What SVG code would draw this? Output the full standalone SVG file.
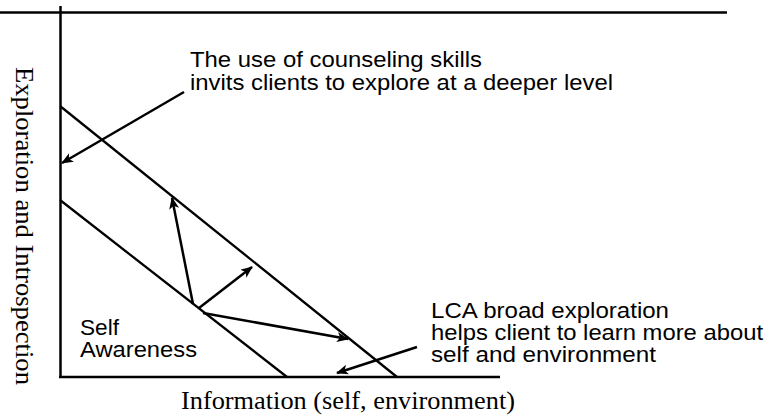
<svg xmlns="http://www.w3.org/2000/svg" width="774" height="420" viewBox="0 0 774 420">
<style>
.ax{stroke:#000;stroke-width:2.5;fill:none}
.dg{stroke:#000;stroke-width:2.3;fill:none}
.ar{stroke:#000;stroke-width:2.5;fill:none;marker-end:url(#ah)}
.sans{font-family:"Liberation Sans",Arial,sans-serif;font-size:22px;fill:#000}
.serif{font-family:"Liberation Serif","Times New Roman",serif;font-size:25px;fill:#000}
</style>
<defs>
<marker id="ah" markerUnits="userSpaceOnUse" markerWidth="14" markerHeight="12" refX="11" refY="5" orient="auto">
<path d="M0,0 L12,5 L0,10 L3,5 z" fill="#000"/>
</marker>
</defs>
<rect width="774" height="420" fill="#fff"/>
<g id="axes">
<line class="ax" x1="0" y1="12.5" x2="727" y2="12.5"/>
<line class="ax" x1="60.5" y1="6" x2="60.5" y2="378"/>
<line class="ax" x1="59" y1="377" x2="500" y2="377"/>
</g>
<g id="boundaries">
<line class="dg" x1="60" y1="106" x2="397" y2="377"/>
<line class="dg" x1="60" y1="200" x2="287" y2="377"/>
</g>
<g id="connectors">
<line class="ar" x1="193" y1="304" x2="172" y2="198"/>
<line class="ar" x1="199" y1="308" x2="252" y2="267"/>
<line class="ar" x1="203" y1="313" x2="348" y2="339"/>
<line class="ar" x1="184" y1="92" x2="62" y2="163"/>
<line class="ar" x1="417" y1="347" x2="337" y2="373"/>
</g>
<g id="label-counseling">
<text class="sans" x="190" y="67" textLength="292" lengthAdjust="spacingAndGlyphs">The use of counseling skills</text>
<text class="sans" x="190" y="90" textLength="423" lengthAdjust="spacingAndGlyphs">invits clients to explore at a deeper level</text>
</g>
<g id="label-self-awareness">
<text class="sans" x="80" y="335" textLength="39" lengthAdjust="spacingAndGlyphs">Self</text>
<text class="sans" x="80" y="357" textLength="117" lengthAdjust="spacingAndGlyphs">Awareness</text>
</g>
<g id="label-lca">
<text class="sans" x="431" y="318" textLength="238" lengthAdjust="spacingAndGlyphs">LCA broad exploration</text>
<text class="sans" x="431" y="340" textLength="332" lengthAdjust="spacingAndGlyphs">helps client to learn more about</text>
<text class="sans" x="431" y="362" textLength="225" lengthAdjust="spacingAndGlyphs">self and environment</text>
</g>
<g id="axis-x-label">
<text class="serif" x="181" y="409" textLength="334" lengthAdjust="spacingAndGlyphs">Information (self, environment)</text>
</g>
<g id="axis-y-label">
<text class="serif" transform="translate(16,67) rotate(90)" x="0" y="0" textLength="318" lengthAdjust="spacingAndGlyphs">Exploration and Introspection</text>
</g>
</svg>
